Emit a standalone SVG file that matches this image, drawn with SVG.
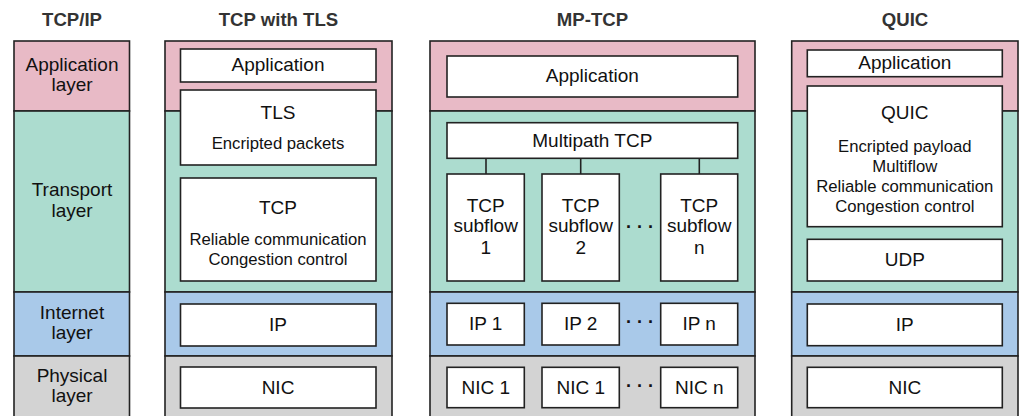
<svg xmlns="http://www.w3.org/2000/svg" width="1022" height="416" viewBox="0 0 1022 416">
<style>
.app{fill:#e8bac6;stroke:#222;stroke-width:1.6}
.tr{fill:#acdccf;stroke:#222;stroke-width:1.6}
.net{fill:#a9c9e9;stroke:#222;stroke-width:1.6}
.phy{fill:#d3d3d3;stroke:#222;stroke-width:1.6}
.box{fill:#fff;stroke:#222;stroke-width:1.6}
.title{font-family:"Liberation Sans",Arial,sans-serif;font-weight:bold;font-size:18.6px;fill:#333;text-anchor:middle}
.lbl{font-family:"Liberation Sans",Arial,sans-serif;font-size:19px;fill:#111;text-anchor:middle}
.sm{font-family:"Liberation Sans",Arial,sans-serif;font-size:16.7px;fill:#111;text-anchor:middle}
.dots{font-family:"Liberation Sans",Arial,sans-serif;font-size:18px;font-weight:bold;fill:#111;text-anchor:middle}
.conn{stroke:#222;stroke-width:1.6;fill:none}
</style>
<rect width="1022" height="416" fill="#fff"/>

<g id="col-tcpip">
<text class="title" x="72" y="26">TCP/IP</text>
<rect class="app" x="14" y="41" width="115.5" height="70"/>
<rect class="tr" x="14" y="111" width="115.5" height="181"/>
<rect class="net" x="14" y="292" width="115.5" height="64"/>
<rect class="phy" x="14" y="356" width="115.5" height="70"/>
<text class="lbl" x="72" y="71">Application</text>
<text class="lbl" x="72" y="91">layer</text>
<text class="lbl" x="72" y="196">Transport</text>
<text class="lbl" x="72" y="217">layer</text>
<text class="lbl" x="72" y="319">Internet</text>
<text class="lbl" x="72" y="339">layer</text>
<text class="lbl" x="72" y="382">Physical</text>
<text class="lbl" x="72" y="402">layer</text>
</g>

<g id="col-tls">
<text class="title" x="278.5" y="26">TCP with TLS</text>
<rect class="app" x="165" y="41" width="227" height="70"/>
<rect class="tr" x="165" y="111" width="227" height="181"/>
<rect class="net" x="165" y="292" width="227" height="64"/>
<rect class="phy" x="165" y="356" width="227" height="70"/>
</g>
<g id="tls-app"><rect class="box" x="180.5" y="49" width="195.5" height="33"/><text class="lbl" x="278" y="71">Application</text></g>
<g id="tls-tls"><rect class="box" x="180.5" y="90" width="195.5" height="75"/><text class="lbl" x="278" y="119">TLS</text><text class="sm" x="278" y="149">Encripted packets</text></g>
<g id="tls-tcp"><rect class="box" x="180.5" y="178" width="195.5" height="103"/><text class="lbl" x="278" y="213.5">TCP</text><text class="sm" x="278" y="244.5">Reliable communication</text><text class="sm" x="278" y="265">Congestion control</text></g>
<g id="tls-ip"><rect class="box" x="180.5" y="304" width="195.5" height="42"/><text class="lbl" x="278" y="331">IP</text></g>
<g id="tls-nic"><rect class="box" x="180.5" y="367" width="195.5" height="41"/><text class="lbl" x="278" y="394">NIC</text></g>

<g id="col-mptcp">
<text class="title" x="592.5" y="26">MP-TCP</text>
<rect class="app" x="430" y="41" width="325" height="70"/>
<rect class="tr" x="430" y="111" width="325" height="181"/>
<rect class="net" x="430" y="292" width="325" height="64"/>
<rect class="phy" x="430" y="356" width="325" height="70"/>
</g>
<g id="connectors">
<line class="conn" x1="486" y1="158" x2="486" y2="174"/>
<line class="conn" x1="580.7" y1="158" x2="580.7" y2="174"/>
<line class="conn" x1="699.3" y1="158" x2="699.3" y2="174"/>
</g>
<g id="mp-app"><rect class="box" x="447" y="56" width="290.7" height="41"/><text class="lbl" x="592.3" y="82">Application</text></g>
<g id="mp-multipath"><rect class="box" x="447" y="122.7" width="290.7" height="35.6"/><text class="lbl" x="592.3" y="147">Multipath TCP</text></g>
<g id="mp-sub1"><rect class="box" x="447" y="174" width="77.3" height="107"/><text class="lbl" x="485.7" y="211.7">TCP</text><text class="lbl" x="485.7" y="232">subflow</text><text class="lbl" x="485.7" y="253.5">1</text></g>
<g id="mp-sub2"><rect class="box" x="542" y="174" width="77.3" height="107"/><text class="lbl" x="580.7" y="211.7">TCP</text><text class="lbl" x="580.7" y="232">subflow</text><text class="lbl" x="580.7" y="253.5">2</text></g>
<g id="mp-subn"><rect class="box" x="660.7" y="174" width="77" height="107"/><text class="lbl" x="699.2" y="211.7">TCP</text><text class="lbl" x="699.2" y="232">subflow</text><text class="lbl" x="699.2" y="253.5">n</text></g>
<text class="dots" x="640" y="233">· · ·</text>
<g id="mp-ip1"><rect class="box" x="447" y="303.3" width="77.3" height="41.7"/><text class="lbl" x="485.7" y="330">IP 1</text></g>
<g id="mp-ip2"><rect class="box" x="542" y="303.3" width="77.3" height="41.7"/><text class="lbl" x="580.7" y="330">IP 2</text></g>
<g id="mp-ipn"><rect class="box" x="660.7" y="303.3" width="77" height="41.7"/><text class="lbl" x="699.2" y="330">IP n</text></g>
<text class="dots" x="640" y="328">· · ·</text>
<g id="mp-nic1"><rect class="box" x="447" y="367.3" width="77.3" height="40.4"/><text class="lbl" x="485.7" y="394">NIC 1</text></g>
<g id="mp-nic2"><rect class="box" x="542" y="367.3" width="77.3" height="40.4"/><text class="lbl" x="580.7" y="394">NIC 1</text></g>
<g id="mp-nicn"><rect class="box" x="660.7" y="367.3" width="77" height="40.4"/><text class="lbl" x="699.2" y="394">NIC n</text></g>
<text class="dots" x="640" y="392">· · ·</text>

<g id="col-quic">
<text class="title" x="905" y="26">QUIC</text>
<rect class="app" x="791.7" y="41" width="226.3" height="70"/>
<rect class="tr" x="791.7" y="111" width="226.3" height="181"/>
<rect class="net" x="791.7" y="292" width="226.3" height="64"/>
<rect class="phy" x="791.7" y="356" width="226.3" height="70"/>
</g>
<g id="q-app"><rect class="box" x="807.3" y="50" width="195" height="26.7"/><text class="lbl" x="904.8" y="69">Application</text></g>
<g id="q-quic"><rect class="box" x="807.3" y="86" width="195" height="140.7"/><text class="lbl" x="904.8" y="118.5">QUIC</text><text class="sm" x="904.8" y="152">Encripted payload</text><text class="sm" x="904.8" y="172">Multiflow</text><text class="sm" x="904.8" y="192">Reliable communication</text><text class="sm" x="904.8" y="212">Congestion control</text></g>
<g id="q-udp"><rect class="box" x="807.3" y="239.3" width="195" height="41.7"/><text class="lbl" x="904.8" y="266">UDP</text></g>
<g id="q-ip"><rect class="box" x="807.3" y="304" width="195" height="41.7"/><text class="lbl" x="904.8" y="331">IP</text></g>
<g id="q-nic"><rect class="box" x="807.3" y="367.3" width="195" height="40.4"/><text class="lbl" x="904.8" y="394">NIC</text></g>
</svg>
